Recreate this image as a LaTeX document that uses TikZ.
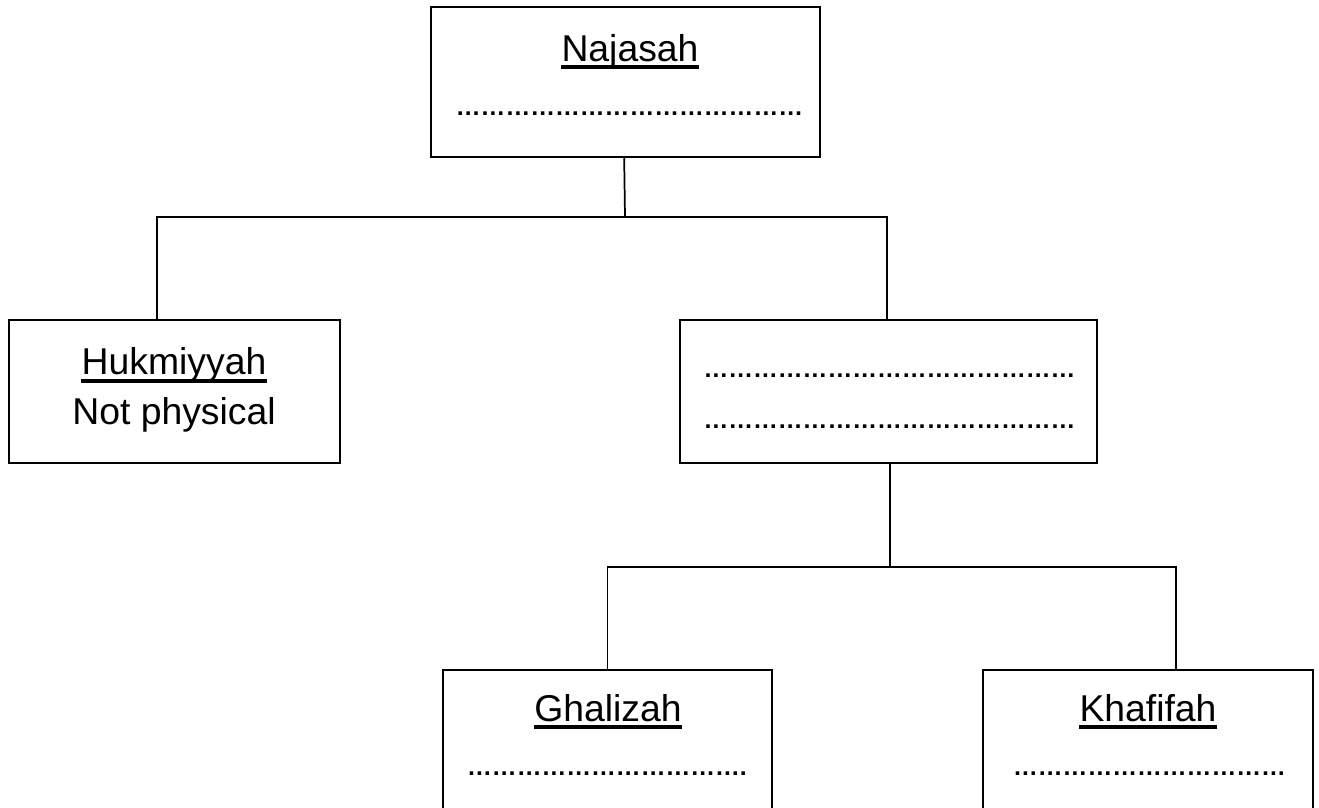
\documentclass[tikz,border=0pt]{standalone}
\usepackage{fontspec}
\setmainfont{Liberation Sans}
\newcommand{\ellrep}[1]{\foreach \k in {1,...,#1}{\textellipsis}}
\begin{document}
\begin{tikzpicture}[x=0.75pt,y=-0.75pt,
  box/.style={draw,line width=1.3pt,rectangle,inner sep=0pt,minimum width=#1},
  lbl/.style={inner sep=0pt,anchor=base,font=\fontsize{28}{30}\selectfont},
  dotline/.style={inner sep=0pt,anchor=base,font=\fontsize{18.6}{21}\selectfont\bfseries},
  conn/.style={line width=1.3pt},
  ul/.style={line width=3pt}]
\useasboundingbox (0,0) rectangle (1319,807);
\fill[white] (0,0) rectangle (1319,807);
\clip (0,0) rectangle (1319,807);
% boxes
\node[box=292pt,minimum height=112.5pt] (top) at (625.5,82) {};
\node[box=248.25pt,minimum height=107.25pt] (left) at (174.5,391.5) {};
\node[box=312.75pt,minimum height=107.25pt] (right) at (888.5,391.5) {};
\node[box=246.75pt,minimum height=112.5pt] (bl) at (607.5,745) {};
\node[box=247.5pt,minimum height=112.5pt] (br) at (1148,745) {};
% texts
\node[lbl] (tNaj) at (630,61) {Najasah};
\draw[ul] ([yshift=-4.5pt]tNaj.base west) -- ([yshift=-4.5pt]tNaj.base east);
\node[dotline] (dTop) at (629.5,115) {\ellrep{14}};
\node[lbl] (tHuk) at (174,374) {Hukmiyyah};
\draw[ul] ([yshift=-5pt]tHuk.base west) -- ([yshift=-5pt]tHuk.base east);
\node[lbl] (tNot) at (174,424) {Not physical};
\node[dotline] (dR1) at (889.5,377) {\ellrep{15}};
\node[dotline] (dR2) at (889.5,428) {\ellrep{15}};
\node[lbl] (tGha) at (608,721) {Ghalizah};
\draw[ul] ([yshift=-4.5pt]tGha.base west) -- ([yshift=-4.5pt]tGha.base east);
\node[dotline] (dGha) at (607,775) {\ellrep{11}.};
\node[lbl] (tKha) at (1148,721) {Khafifah};
\draw[ul] ([yshift=-4.5pt]tKha.base west) -- ([yshift=-4.5pt]tKha.base east);
\node[dotline] (dKha) at (1149.5,775) {\ellrep{11}};
% connectors
\coordinate (j1) at (625,217);
\coordinate (j2) at (890,567);
\draw[conn] ([xshift=-1pt]top.south) -- (j1);
\draw[conn] ([xshift=-13.1pt]left.north) |- (j1) -| ([xshift=-1.1pt]right.north);
\draw[conn] ([xshift=1.1pt]right.south) -- (j2);
\draw[conn] (bl.north) |- (j2) -| ([xshift=21pt]br.north);
\end{tikzpicture}
\end{document}
